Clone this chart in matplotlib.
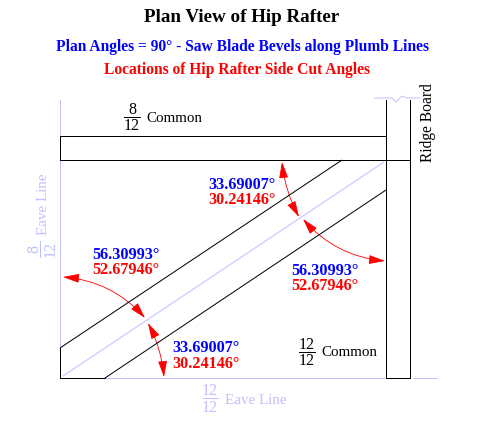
import matplotlib
matplotlib.use("Agg")
import matplotlib.pyplot as plt
from matplotlib.patches import FancyArrowPatch

LIGHT = "#c0c0ff"
BLUE = "#0000ff"
RED = "#ff0000"
SERIF = "Liberation Serif"

title = "Plan View of Hip Rafter"
subtitle_blue = "Plan Angles = 90\u00b0 - Saw Blade Bevels along Plumb Lines"
subtitle_red = "Locations of Hip Rafter Side Cut Angles"

small_blue = "33.69007\u00b0"
small_red = "30.24146\u00b0"
large_blue = "56.30993\u00b0"
large_red = "52.67946\u00b0"

# everything is laid out in image pixels
fig = plt.figure(figsize=(4.8, 4.3), dpi=100, facecolor="white")
ax = fig.add_axes([0, 0, 1, 1])
ax.set_xlim(0, 480)
ax.set_ylim(430, 0)
ax.axis("off")


def line(xs, ys, color="black", lw=0.72, aa=False):
    ax.plot(xs, ys, color=color, lw=lw, antialiased=aa, solid_capstyle="butt")


def label(x, y, s, color="black", size=11, weight="normal", ha="left", rotation=0):
    ax.text(x, y, s, color=color, fontsize=size, fontweight=weight, ha=ha, va="baseline",
            family=SERIF, rotation=rotation, rotation_mode="anchor")


def arrow(a, b, rad):
    ax.add_patch(FancyArrowPatch(a, b, connectionstyle=f"arc3,rad={rad}",
                                 arrowstyle="<|-|>,head_length=10,head_width=2.8",
                                 mutation_scale=1, color=RED, lw=0.6,
                                 shrinkA=0, shrinkB=0))


# light eave lines and ridge break
line([60, 60], [100, 136], LIGHT)
line([60, 60], [160, 348], LIGHT)
line([105, 384], [378, 378], LIGHT)
line([413, 437], [378, 378], LIGHT)
line([374, 392, 396, 402, 407, 420], [98, 98, 102, 96, 98, 98], LIGHT, aa=True)
line([63, 384], [376, 162], LIGHT, aa=True)

# common rafter and ridge outlines
line([60, 386], [136, 136])
line([60, 410], [160, 160])
line([60, 60], [136, 160])
line([386, 386], [100, 378])
line([410, 410], [100, 378])
line([386, 410], [378, 378])

# hip rafter
line([60, 60], [348, 378])
line([60, 105], [378, 378])
line([60, 342], [348, 160], aa=True)
line([105, 386], [378, 190], aa=True)

arrow((282, 162), (299, 217), 0.1)
arrow((303, 219), (385, 261), 0.2)
arrow((63, 277), (145, 318), -0.2)
arrow((148, 323), (164, 377), -0.1)

label(242, 22, title, size=13.7, weight="bold", ha="center")
label(243, 51, subtitle_blue, BLUE, size=11.2, weight="bold", ha="center")
label(237.5, 74, subtitle_red, RED, size=11.2, weight="bold", ha="center")

label(208, 189, small_blue, BLUE, size=11.7, weight="bold")
label(208, 204, small_red, RED, size=11.7, weight="bold")
label(291, 275, large_blue, BLUE, size=11.7, weight="bold")
label(291, 290, large_red, RED, size=11.7, weight="bold")
label(92, 259, large_blue, BLUE, size=11.7, weight="bold")
label(92, 274, large_red, RED, size=11.7, weight="bold")
label(172, 352.5, small_blue, BLUE, size=11.7, weight="bold")
label(172, 367.5, small_red, RED, size=11.7, weight="bold")

# pitch fractions
label(132, 114, "8", size=11.5, ha="center")
line([124, 140], [117, 117])
label(132, 130, "12", size=11.5, ha="center")
label(146, 122, "Common", size=10.8)

label(307, 349, "12", size=11.5, ha="center")
line([299, 315], [352, 352])
label(307, 365, "12", size=11.5, ha="center")
label(321, 356, "Common", size=10.8)

label(432, 162, "Ridge Board", size=11.2, rotation=90)

label(38, 249, "8", LIGHT, size=11.5, ha="center", rotation=90)
line([40, 40], [241, 257], LIGHT)
label(55, 249, "12", LIGHT, size=11.5, ha="center", rotation=90)
label(47, 235, "Eave Line", LIGHT, size=10.8, rotation=90)

label(210, 395, "12", LIGHT, size=11.5, ha="center")
line([203, 218], [398, 398], LIGHT)
label(210, 412, "12", LIGHT, size=11.5, ha="center")
label(225, 404, "Eave Line", LIGHT, size=10.8)

fig.savefig("out.png", dpi=100)
